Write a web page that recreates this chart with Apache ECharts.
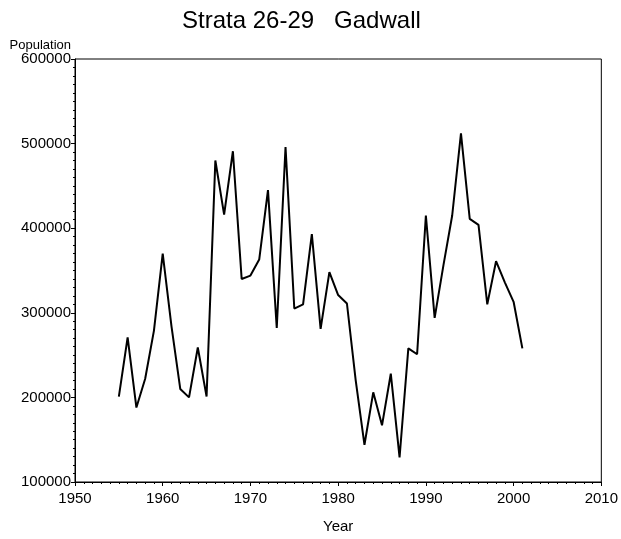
<!DOCTYPE html>
<html>
<head>
<meta charset="utf-8">
<script src="https://cdn.jsdelivr.net/npm/echarts@6/dist/echarts.min.js"></script>
<style>
* { margin: 0; padding: 0; }
#chart { width: 621px; height: 539px; background: #fff; }
</style>
</head>
<body>
<div id="chart"></div>
<script>
// years and surveyed population
const years = [1955,1956,1957,1958,1959,1960,1961,1962,1963,1964,1965,1966,1967,1968,1969,1970,
    1971,1972,1973,1974,1975,1976,1977,1978,1979,1980,1981,1982,1983,1984,1985,1986,1987,1988,
    1989,1990,1991,1992,1993,1994,1995,1996,1997,1998,1999,2000,2001]
const population = [201000,271000,188000,222000,279000,370000,284000,210000,200000,259000,201000,
    480000,416000,491000,340000,344000,363000,445000,282000,496000,305000,310000,393000,281000,
    348000,321000,311000,220000,144000,206000,167000,228000,129000,258000,251000,415000,294000,
    356000,415000,512000,411000,404000,310000,361000,336000,313000,258000]
const xTicks = { min: 1950, max: 2010, step: 10 }
const yTicks = { min: 100000, max: 600000, step: 100000 }

const font = '"Liberation Sans", Arial, sans-serif'
const chart = echarts.init(document.getElementById('chart'))
chart.setOption({
    animation: false,
    title: {
        text: 'Strata 26-29   Gadwall',
        left: 177,
        top: 4,
        textStyle: { fontFamily: font, fontSize: 24, fontWeight: 'normal', color: '#000' }
    },
    grid: {
        left: 75, right: 18, top: 59, bottom: 56,
        show: true, borderColor: '#000', borderWidth: 1
    },
    xAxis: {
        type: 'value',
        min: xTicks.min, max: xTicks.max, interval: xTicks.step,
        name: 'Year',
        nameLocation: 'middle',
        nameGap: 37,
        nameTextStyle: { fontFamily: font, fontSize: 15, color: '#000' },
        axisLine: { show: true, lineStyle: { color: '#000', width: 1 } },
        axisTick: { show: true, length: 4, lineStyle: { color: '#000' } },
        minorTick: { show: true, splitNumber: 10, length: 2, lineStyle: { color: '#000' } },
        splitLine: { show: false },
        axisLabel: { fontFamily: font, fontSize: 15, color: '#000', margin: 9, formatter: v => String(v) }
    },
    yAxis: {
        type: 'value',
        min: yTicks.min, max: yTicks.max, interval: yTicks.step,
        name: 'Population',
        nameLocation: 'end',
        nameGap: 6,
        nameTextStyle: { fontFamily: font, fontSize: 13, color: '#000', align: 'right', padding: [0, 4, 0, 0] },
        axisLine: { show: true, lineStyle: { color: '#000', width: 1 } },
        axisTick: { show: true, length: 4, lineStyle: { color: '#000' } },
        minorTick: { show: true, splitNumber: 10, length: 2, lineStyle: { color: '#000' } },
        splitLine: { show: false },
        axisLabel: { fontFamily: font, fontSize: 15, color: '#000', margin: 4, formatter: v => String(v) }
    },
    series: [{
        type: 'line',
        data: years.map((y, i) => [y, population[i]]),
        showSymbol: false,
        lineStyle: { color: '#000', width: 2 },
        itemStyle: { color: '#000' }
    }]
})
</script>
</body>
</html>
